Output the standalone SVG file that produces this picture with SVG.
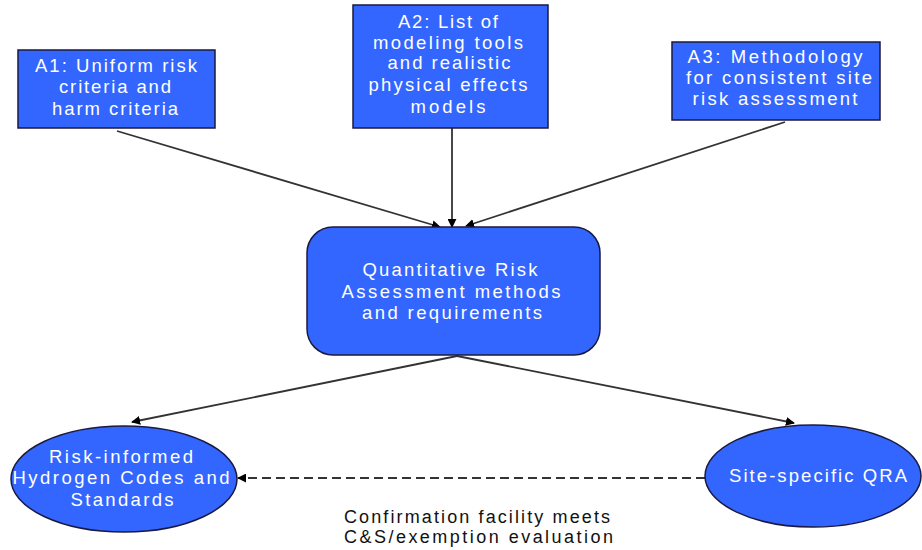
<svg xmlns="http://www.w3.org/2000/svg" width="922" height="550" viewBox="0 0 922 550">
<style>
.node{fill:#3366FF;stroke:#1a1a40;stroke-width:1.5}
.t{font-family:"Liberation Sans",Arial,sans-serif;font-size:18.5px;fill:#ffffff;text-anchor:middle}
.c{font-family:"Liberation Sans",Arial,sans-serif;font-size:18px;fill:#111111}
.e{stroke:#333333;stroke-width:1.8;fill:none}
</style>
<defs>
<marker id="ah" viewBox="0 0 10 10" refX="9" refY="5" markerWidth="9" markerHeight="9" orient="auto" markerUnits="userSpaceOnUse">
<path d="M0,0 L10,5 L0,10 z" fill="#000000"/>
</marker>
</defs>
<g id="connectors">
<line class="e" x1="117" y1="131" x2="440" y2="227" marker-end="url(#ah)"/>
<line class="e" x1="452" y1="128" x2="452" y2="227" marker-end="url(#ah)"/>
<line class="e" x1="785" y1="122" x2="466" y2="226" marker-end="url(#ah)"/>
<line class="e" x1="457" y1="356" x2="132" y2="422" marker-end="url(#ah)"/>
<line class="e" x1="457" y1="356" x2="794" y2="423" marker-end="url(#ah)"/>
<line class="e" x1="705" y1="478" x2="238" y2="478" stroke-dasharray="9,5" marker-end="url(#ah)"/>
</g>
<g id="A1">
<rect class="node" x="18" y="50" width="197" height="78"/>
<text class="t" x="116" y="72" textLength="162" lengthAdjust="spacing">A1: Uniform risk</text>
<text class="t" x="115" y="93" textLength="112" lengthAdjust="spacing">criteria and</text>
<text class="t" x="115" y="115" textLength="126" lengthAdjust="spacing">harm criteria</text>
</g>
<g id="A2">
<rect class="node" x="353" y="5" width="195" height="123"/>
<text class="t" x="448" y="28" textLength="100" lengthAdjust="spacing">A2: List of</text>
<text class="t" x="448" y="49" textLength="150" lengthAdjust="spacing">modeling tools</text>
<text class="t" x="449" y="69" textLength="123" lengthAdjust="spacing">and realistic</text>
<text class="t" x="448" y="91" textLength="159" lengthAdjust="spacing">physical effects</text>
<text class="t" x="448" y="113" textLength="75" lengthAdjust="spacing">models</text>
</g>
<g id="A3">
<rect class="node" x="672" y="42" width="208" height="78"/>
<text class="t" x="775" y="63" textLength="175" lengthAdjust="spacing">A3:  Methodology</text>
<text class="t" x="779" y="84" textLength="186" lengthAdjust="spacing">for consistent site</text>
<text class="t" x="775" y="105" textLength="165" lengthAdjust="spacing">risk assessment</text>
</g>
<g id="QRA">
<rect class="node" x="307" y="227" width="293" height="128" rx="26" ry="26"/>
<text class="t" x="450" y="276" textLength="175" lengthAdjust="spacing">Quantitative Risk</text>
<text class="t" x="451" y="298" textLength="219" lengthAdjust="spacing">Assessment methods</text>
<text class="t" x="452" y="319" textLength="180" lengthAdjust="spacing">and requirements</text>
</g>
<g id="codes">
<ellipse class="node" cx="124" cy="479" rx="113" ry="53"/>
<text class="t" x="121" y="463" textLength="144" lengthAdjust="spacing">Risk-informed</text>
<text class="t" x="121" y="484" textLength="217" lengthAdjust="spacing">Hydrogen Codes and</text>
<text class="t" x="122" y="506" textLength="103" lengthAdjust="spacing">Standards</text>
</g>
<g id="site">
<ellipse class="node" cx="813" cy="476" rx="108" ry="51"/>
<text class="t" x="818" y="482" textLength="178" lengthAdjust="spacing">Site-specific QRA</text>
</g>
<g id="caption">
<text class="c" x="344" y="523" textLength="266" lengthAdjust="spacing">Confirmation facility meets</text>
<text class="c" x="344" y="543" textLength="269" lengthAdjust="spacing">C&amp;S/exemption evaluation</text>
</g>
</svg>
